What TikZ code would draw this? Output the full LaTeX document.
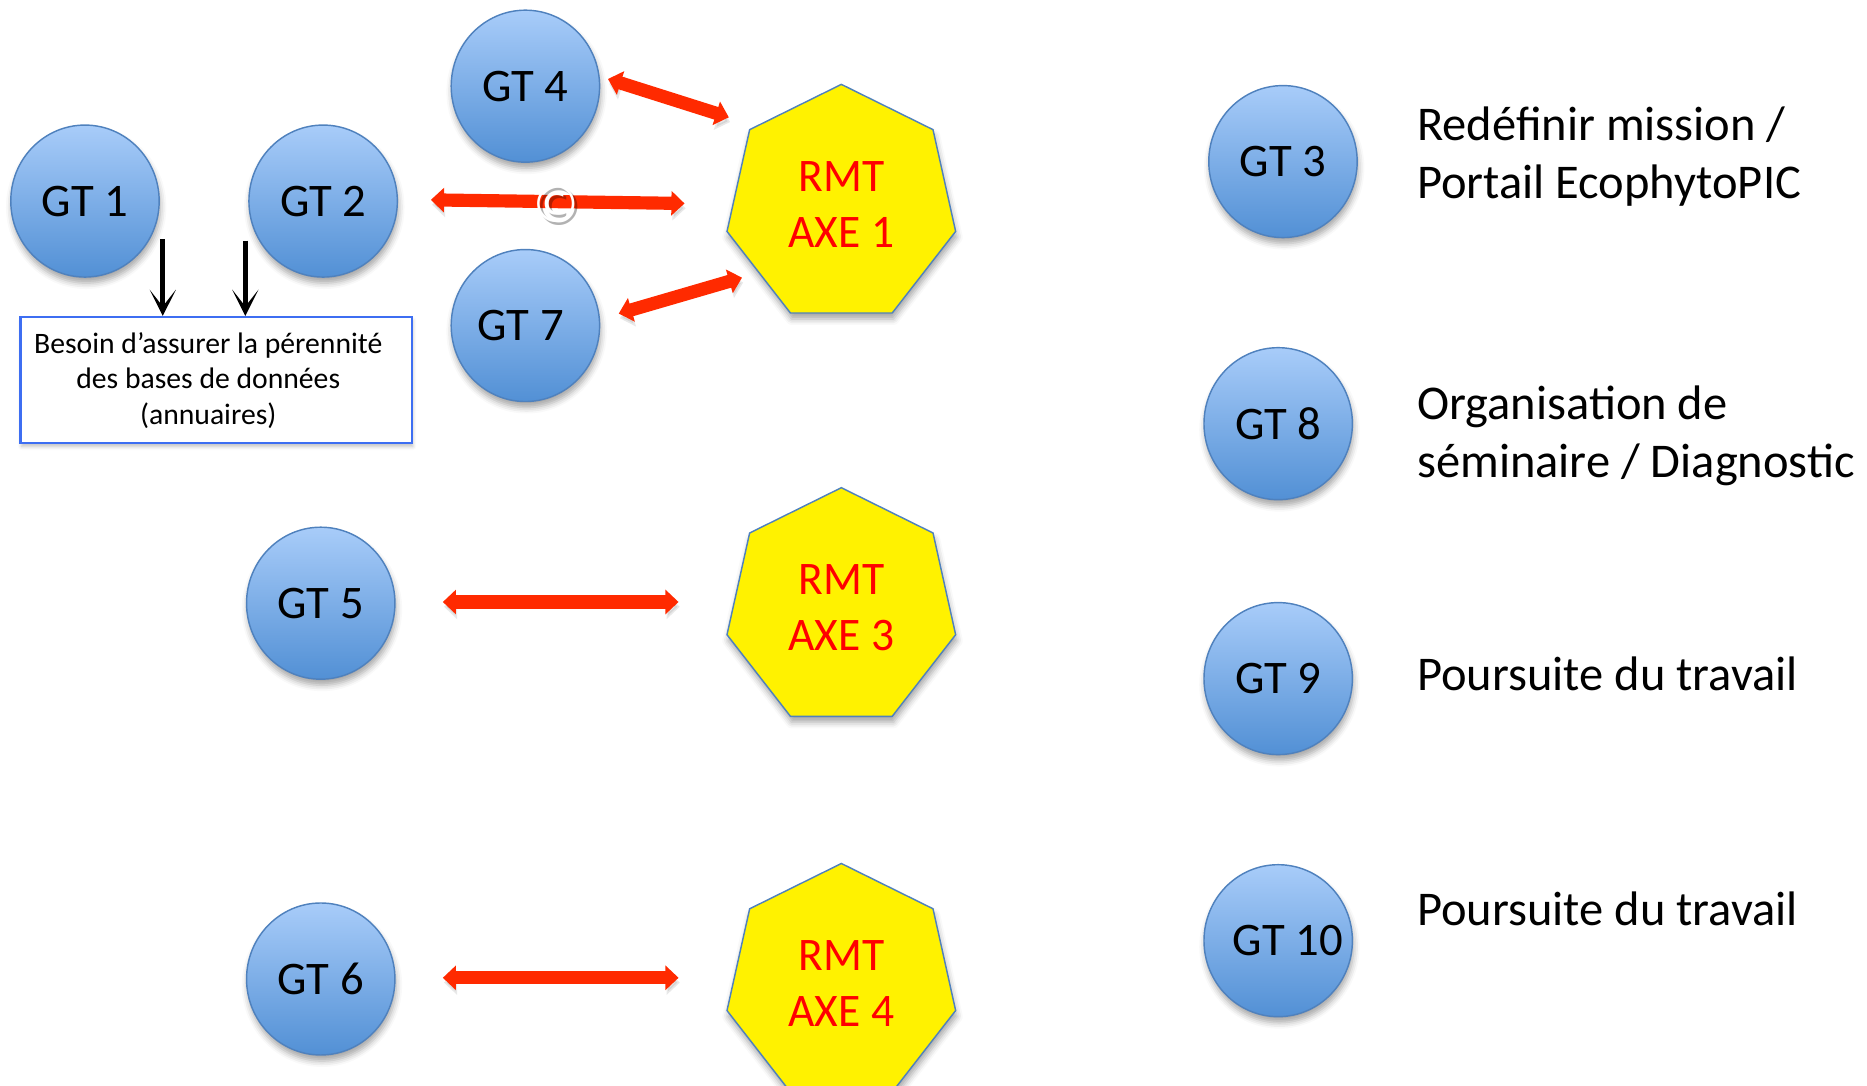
\documentclass[tikz,border=0pt]{standalone}
\usepackage{fontspec}
\setmainfont{Carlito}
\newfontfamily\symfont{DejaVu Sans}
\usetikzlibrary{shapes.geometric,arrows.meta,shadows.blur}
\definecolor{gtTop}{HTML}{A8CCF9}
\definecolor{gtBot}{HTML}{5290D5}
\definecolor{gtLine}{HTML}{4F81BD}
\definecolor{arrRed}{HTML}{FF2A00}
\definecolor{boxBlue}{HTML}{3D6EF2}
\newcommand{\gtlabel}[1]{\makebox[0pt]{#1}}
\tikzset{
  gt/.style={ellipse, minimum width=124pt, minimum height=127pt, inner sep=0pt, draw=gtLine, line width=1.2pt,
    top color=gtTop, bottom color=gtBot,
    blur shadow={shadow xshift=1pt, shadow yshift=-5pt, shadow blur radius=5pt, shadow opacity=35},
    font=\fontsize{39}{45}\selectfont},
  rmt/.style={regular polygon, regular polygon sides=7, minimum size=201pt, inner sep=0pt,
    draw=gtLine, line width=1.2pt, fill=yellow, text=red, align=center,
    blur shadow={shadow xshift=1pt, shadow yshift=-5pt, shadow blur radius=5pt, shadow opacity=35},
    font=\fontsize{39}{47}\selectfont},
  redarrow/.style={draw=arrRed, line width=11pt, {Triangle[width=20pt,length=11pt]}-{Triangle[width=20pt,length=11pt]},
    preaction={draw=black!60, opacity=0.15, transform canvas={shift={(1pt,-4pt)}}}},
  blackarrow/.style={draw=black, line width=4.5pt, -{Stealth[length=22pt,width=22pt,inset=14pt]}},
  infotext/.style={anchor=west, align=left, inner sep=0pt, font=\fontsize{40.5}{48}\selectfont},
}
\begin{document}
\begin{tikzpicture}[x=1pt,y=-1pt]
\useasboundingbox (0,0) rectangle (1560,907.4);
\clip (0,0) rectangle (1560,907.4);

% RMT heptagons
\begin{scope}[xscale=0.975]
\node[rmt, transform shape] (rmt1) at (721,171) {RMT\\AXE 1};
\node[rmt, transform shape] (rmt3) at (721,508) {RMT\\AXE 3};
\node[rmt, transform shape] (rmt4) at (721,822) {RMT\\AXE 4};
\end{scope}

% GT circles
\node[gt] (gt1) at (71,168) {\gtlabel{GT 1}};
\node[gt] (gt2) at (270,168) {\gtlabel{GT 2}};
\node[gt] (gt4) at (439,72) {\gtlabel{GT 4}};
\node[gt] (gt7) at (439,272) {\gtlabel{\hspace*{-8pt}GT 7}};
\node[gt] (gt5) at (268,504) {\gtlabel{GT 5}};
\node[gt] (gt6) at (268,818) {\gtlabel{GT 6}};
\node[gt] (gt3) at (1072,135) {\gtlabel{GT 3}};
\node[gt] (gt8) at (1068,354) {\gtlabel{GT 8}};
\node[gt] (gt9) at (1068,567) {\gtlabel{GT 9}};
\node[gt] (gt10) at (1068,786) {\gtlabel{\hspace*{16pt}GT 10}};

% box
\node[draw=boxBlue, line width=2pt, fill=white, minimum width=327pt, minimum height=105pt,
  inner sep=0pt,
  blur shadow={shadow xshift=1pt, shadow yshift=-3pt, shadow blur radius=3pt, shadow opacity=25}]
  (box) at (180.5,317.5) {};
\node[align=center, font=\fontsize{24.8}{29.5}\selectfont, inner sep=0pt]
  (boxtext) at (174,318) {Besoin d’assurer la pérennité\\des bases de données\\(annuaires)};

% black arrows
\coordinate (b1) at ([shift={(65,32)}]gt1.center);
\coordinate (b2) at ([shift={(-65,33)}]gt2.center);
\draw[blackarrow] (b1) -- (b1 |- box.north);
\draw[blackarrow] (b2) -- (b2 |- box.north);

% red arrows
\draw[redarrow] ([shift={(69,-6)}]gt4.center) -- ([shift={(-94,-73)}]rmt1.center);
\draw[redarrow] ([shift={(90,-1)}]gt2.center) -- coordinate[pos=0.5] (mid) ([shift={(-131,-1)}]rmt1.center);
\node[text=black, opacity=0.3, font=\symfont\fontsize{43}{43}\selectfont] (copysh) at ([shift={(1,4)}]mid) {©};
\node[text=white, font=\symfont\fontsize{43}{43}\selectfont] (copy) at ([shift={(-1,2)}]mid) {©};
\draw[redarrow] ([shift={(78,-10)}]gt7.center) -- ([shift={(-83,61)}]rmt1.center);
\draw[redarrow] ([shift={(102,-1)}]gt5.center) -- ([shift={(-136,-5)}]rmt3.center);
\draw[redarrow] ([shift={(102,-1)}]gt6.center) -- ([shift={(-136,-5)}]rmt4.center);

% right texts
\node[infotext] (t3) at (1184,131) {Redéfinir mission /\\Portail EcophytoPIC};
\node[infotext] (t8) at (1184,364) {Organisation de\\séminaire / Diagnostic};
\node[infotext] (t9) at (1184,563) {Poursuite du travail};
\node[infotext] (t10) at (1184,759) {Poursuite du travail};
\end{tikzpicture}
\end{document}
